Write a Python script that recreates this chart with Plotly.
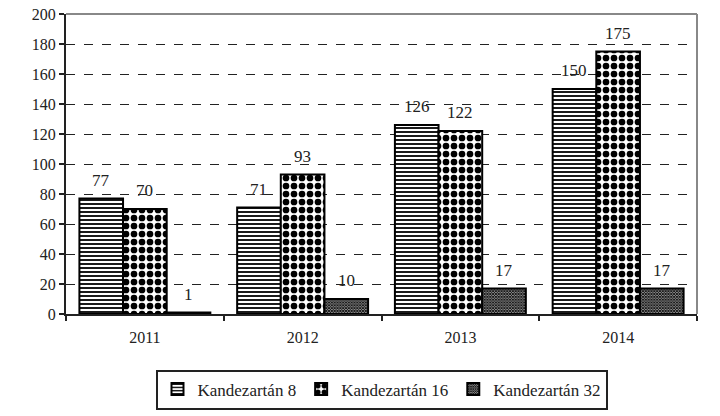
import plotly.graph_objects as go

years = ["2011", "2012", "2013", "2014"]
k8 = [77, 71, 126, 150]
k16 = [70, 93, 122, 175]
k32 = [1, 10, 17, 17]
names = ["Kandezartán 8", "Kandezartán 16", "Kandezartán 32"]
yticks = list(range(0, 201, 20))

FONT = "Liberation Serif"
BARGAP = 0.17
patterns = [
    dict(shape="-", fgcolor="black", bgcolor="white", size=4, solidity=0.45, fillmode="replace"),
    dict(shape=".", fgcolor="black", bgcolor="white", size=8, solidity=0.55, fillmode="replace"),
    dict(shape="x", fgcolor="#111", bgcolor="white", size=2, solidity=0.8, fillmode="replace"),
]

fig = go.Figure()
series = [k8, k16, k32]
bw = (1 - BARGAP) / len(series)
for si, (name, vals, pat) in enumerate(zip(names, series, patterns)):
    fig.add_trace(go.Bar(
        x=years, y=vals, name=name,
        marker=dict(color="white", line=dict(color="black", width=2), pattern=pat),
    ))
    for ci, v in enumerate(vals):
        fig.add_annotation(x=ci + (si - 1) * bw, y=v, text=str(v), showarrow=False,
                           xref="x", yref="y", yanchor="bottom", yshift=7,
                           font=dict(family=FONT, size=17, color="#222"))

fig.update_layout(
    width=720, height=416,
    margin=dict(l=66, r=23, t=14, b=102, autoexpand=False),
    paper_bgcolor="white", plot_bgcolor="white",
    barmode="group", bargap=BARGAP, bargroupgap=0,
    font=dict(family=FONT, size=16, color="#222"),
    showlegend=True,
    legend=dict(orientation="h", x=0.5, xanchor="center", y=-0.185, yanchor="top",
                bordercolor="#222", borderwidth=2, font=dict(family=FONT, size=17),
                itemwidth=30, tracegroupgap=0),
    xaxis=dict(showline=True, linecolor="#222", linewidth=2, ticks="outside",
               tickson="boundaries", ticklen=5, tickcolor="#222", tickwidth=2,
               automargin=False, tickfont=dict(size=16), ticklabelstandoff=8),
    yaxis=dict(range=[0, 200], tickvals=yticks, showline=True, linecolor="#222",
               linewidth=2, ticks="outside", ticklen=5, tickcolor="#222", tickwidth=2,
               showgrid=True, gridcolor="#222", griddash="dash", gridwidth=1,
               zeroline=False, automargin=False, tickfont=dict(size=16)),
)
fig.add_shape(type="line", xref="paper", yref="paper", x0=0, x1=1, y0=1, y1=1,
              line=dict(color="#888", width=2))
fig.add_shape(type="line", xref="paper", yref="paper", x0=1, x1=1, y0=0, y1=1,
              line=dict(color="#888", width=2))

fig.write_html("out.html")
